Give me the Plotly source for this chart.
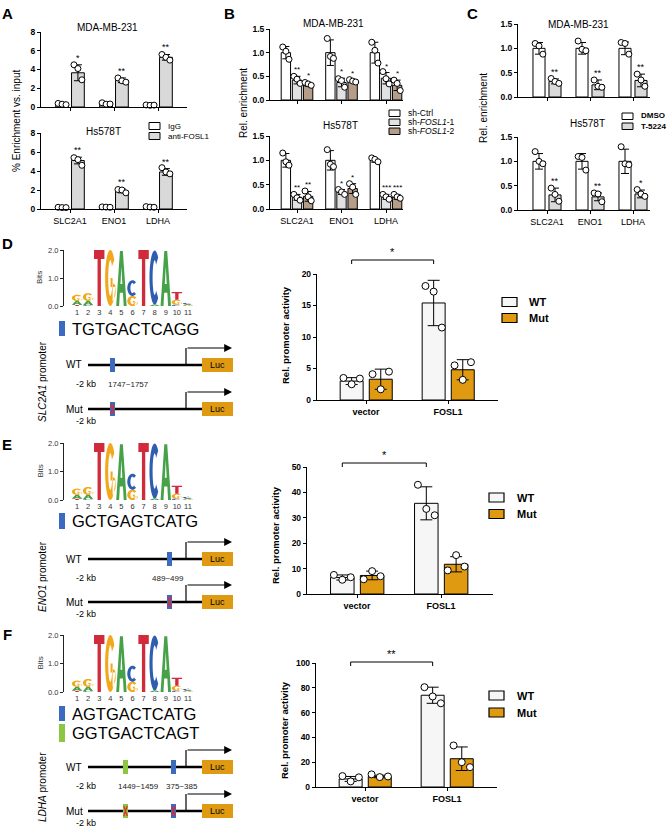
import numpy as np
import plotly.graph_objects as go

W, H = 669, 828
FONT = "Arial, 'Liberation Sans', Helvetica, sans-serif"

# ======================= DATA =======================
genes = ["SLC2A1", "ENO1", "LDHA"]

# ---- Panel A: % enrichment vs input ----
A_mda_igg_mean = [0.30, 0.35, 0.20]
A_mda_igg_sd = [0.06, 0.09, 0.04]
A_mda_igg_pts = [[0.38, 0.30, 0.25], [0.45, 0.30, 0.32], [0.22, 0.18, 0.20]]
A_mda_anti_mean = [3.65, 2.85, 5.30]
A_mda_anti_sd = [0.85, 0.25, 0.30]
A_mda_anti_pts = [[4.5, 4.1, 2.9], [3.1, 2.8, 2.65], [5.6, 5.3, 5.0]]
A_mda_stars = ["*", "**", "**"]

A_hs_igg_mean = [0.15, 0.20, 0.20]
A_hs_igg_sd = [0.03, 0.04, 0.05]
A_hs_igg_pts = [[0.18, 0.15, 0.15], [0.22, 0.20, 0.18], [0.25, 0.20, 0.18]]
A_hs_anti_mean = [5.10, 1.90, 3.90]
A_hs_anti_sd = [0.35, 0.20, 0.35]
A_hs_anti_pts = [[5.4, 5.2, 4.6], [2.05, 2.0, 1.7], [4.35, 3.9, 3.7]]
A_hs_stars = ["**", "**", "**"]

# ---- Panel B: knockdown ----
B_mda_ctrl_mean = [1.0, 1.0, 1.0]
B_mda_ctrl_sd = [0.13, 0.27, 0.22]
B_mda_ctrl_pts = [[1.12, 1.03, 0.86], [1.30, 0.92, 0.88], [1.22, 1.05, 0.78]]
B_mda_sh1_mean = [0.42, 0.37, 0.46]
B_mda_sh1_sd = [0.08, 0.09, 0.12]
B_mda_sh1_pts = [[0.50, 0.44, 0.35], [0.45, 0.41, 0.27], [0.60, 0.45, 0.34]]
B_mda_sh1_stars = ["**", "*", "*"]
B_mda_sh2_mean = [0.33, 0.40, 0.31]
B_mda_sh2_sd = [0.04, 0.03, 0.11]
B_mda_sh2_pts = [[0.37, 0.34, 0.31], [0.43, 0.40, 0.38], [0.42, 0.35, 0.20]]
B_mda_sh2_stars = ["*", "*", "*"]

B_hs_ctrl_mean = [1.0, 1.0, 1.0]
B_hs_ctrl_sd = [0.14, 0.20, 0.04]
B_hs_ctrl_pts = [[1.15, 0.97, 0.90], [1.22, 0.92, 0.87], [1.05, 1.02, 0.97]]
B_hs_sh1_mean = [0.24, 0.35, 0.25]
B_hs_sh1_sd = [0.06, 0.05, 0.05]
B_hs_sh1_pts = [[0.30, 0.23, 0.18], [0.40, 0.35, 0.30], [0.30, 0.25, 0.20]]
B_hs_sh1_stars = ["**", "*", "***"]
B_hs_sh2_mean = [0.26, 0.42, 0.25]
B_hs_sh2_sd = [0.10, 0.10, 0.05]
B_hs_sh2_pts = [[0.37, 0.25, 0.17], [0.52, 0.45, 0.30], [0.30, 0.25, 0.22]]
B_hs_sh2_stars = ["**", "*", "***"]

# ---- Panel C: inhibitor ----
C_mda_dmso_mean = [1.0, 1.0, 1.0]
C_mda_dmso_sd = [0.12, 0.12, 0.13]
C_mda_dmso_pts = [[1.10, 1.05, 0.88], [1.15, 0.98, 0.95], [1.12, 1.10, 0.88]]
C_mda_t_mean = [0.32, 0.25, 0.34]
C_mda_t_sd = [0.05, 0.10, 0.13]
C_mda_t_pts = [[0.38, 0.32, 0.28], [0.35, 0.22, 0.20], [0.47, 0.35, 0.22]]
C_mda_stars = ["**", "**", "**"]

C_hs_dmso_mean = [1.0, 1.0, 1.0]
C_hs_dmso_sd = [0.16, 0.16, 0.25]
C_hs_dmso_pts = [[1.20, 1.00, 0.95], [1.10, 1.08, 0.82], [1.30, 0.95, 0.93]]
C_hs_t_mean = [0.31, 0.27, 0.33]
C_hs_t_sd = [0.14, 0.08, 0.08]
C_hs_t_pts = [[0.45, 0.32, 0.18], [0.35, 0.33, 0.17], [0.42, 0.33, 0.28]]
C_hs_stars = ["**", "**", "*"]

# ---- Panels D-F: promoter activity ----
conditions = ["vector", "FOSL1"]
D_wt_mean = [3.0, 15.4]
D_wt_sd = [0.55, 3.6]
D_wt_pts = [[3.5, 2.5, 3.4], [18.1, 17.2, 11.5]]
D_mut_mean = [3.3, 4.8]
D_mut_sd = [1.6, 1.6]
D_mut_pts = [[4.1, 1.7, 4.5], [5.5, 3.2, 6.0]]

E_wt_mean = [6.5, 35.7]
E_wt_sd = [1.0, 6.5]
E_wt_pts = [[7.5, 5.6, 6.6], [43.0, 33.5, 31.0]]
E_mut_mean = [7.3, 11.7]
E_mut_sd = [1.7, 3.0]
E_mut_pts = [[5.8, 9.0, 7.0], [9.3, 15.3, 10.8]]

F_wt_mean = [6.5, 74.0]
F_wt_sd = [2.0, 6.5]
F_wt_pts = [[8.8, 4.5, 7.8], [80.5, 73.0, 67.5]]
F_mut_mean = [8.5, 22.8]
F_mut_sd = [1.0, 9.5]
F_mut_pts = [[10.2, 8.0, 8.5], [33.5, 20.0, 16.0]]

DEF_stars = ["*", "*", "**"]

# ---- sequence logo (bits, stacked bottom -> top) ----
logo_positions = list(range(1, 12))
logo_stacks = [
    [("T", 0.04), ("A", 0.14), ("G", 0.22)],
    [("C", 0.03), ("A", 0.15), ("G", 0.28)],
    [("T", 2.0)],
    [("G", 2.0)],
    [("A", 1.96)],
    [("G", 0.36), ("C", 0.56)],
    [("T", 2.0)],
    [("A", 0.05), ("C", 1.93)],
    [("A", 1.96)],
    [("C", 0.05), ("G", 0.17), ("T", 0.28)],
    [("G", 0.03), ("A", 0.03), ("C", 0.05)],
]
D_seqs = ["TGTGACTCAGG"]
E_seqs = ["GCTGAGTCATG"]
F_seqs = ["AGTGACTCATG", "GGTGACTCAGT"]

# ======================= STYLE =======================
WHITE = "#ffffff"
GREY = "#d9d9d9"
BROWN = "#b49e89"
ORANGE = "#e09a12"
WT_COL = "#f6f6f6"
BLUE = "#3b6bbf"
GREEN = "#8dc641"
LOGO_COL = {"T": "#d12a3a", "G": "#f2a81d", "A": "#45a248", "C": "#2f5db0"}

fig = go.Figure()
layout = dict(width=W, height=H, margin=dict(l=0, r=0, t=0, b=0, pad=0),
              template="none", autosize=False,
              paper_bgcolor="white", plot_bgcolor="rgba(0,0,0,0)",
              showlegend=False, barmode="overlay",
              font=dict(family=FONT, color="black"))
shapes, annots = [], []


def PX(x):
    return x / W


def PY(y):
    return 1 - y / H


def akey(p, n):
    return f"{p}axis" if n == 1 else f"{p}axis{n}"


def aref(p, n):
    return p if n == 1 else f"{p}{n}"


def text(x, y, s, size=10, bold=False, xanchor="center", angle=0, color="black"):
    annots.append(dict(x=PX(x), y=PY(y), xref="paper", yref="paper", text=s,
                       showarrow=False, xanchor=xanchor, yanchor="middle",
                       textangle=angle,
                       font=dict(size=size, color=color, family=FONT,
                                 weight="bold" if bold else "normal")))


def rect(x0, x1, y0, y1, fill, lc="black", lw=1):
    shapes.append(dict(type="rect", xref="paper", yref="paper",
                       x0=PX(x0), x1=PX(x1), y0=PY(y0), y1=PY(y1),
                       fillcolor=fill, line=dict(color=lc, width=lw)))


def pline(x0, y0, x1, y1, color="black", width=1):
    shapes.append(dict(type="line", xref="paper", yref="paper",
                       x0=PX(x0), x1=PX(x1), y0=PY(y0), y1=PY(y1),
                       line=dict(color=color, width=width)))


def bar_panel(n, g, series, yticks, yfmt, xlabels, show_x, xbold, ptsize,
              jit, capw, lw, tsize=8.5, xsize=9, star_size=9):
    xr = [(g["left"] - g["c0"]) / g["sp"], (g["right"] - g["c0"]) / g["sp"]]
    layout[akey("x", n)] = dict(
        domain=[g["left"] / W, g["right"] / W], range=xr, anchor=aref("y", n),
        showline=True, linecolor="black", linewidth=lw, ticks="outside",
        ticklen=3, tickwidth=1, tickcolor="black", automargin=False,
        tickvals=list(range(len(xlabels))), ticktext=xlabels,
        showticklabels=show_x,
        tickfont=dict(size=xsize, color="black", weight="bold" if xbold else "normal"),
        showgrid=False, zeroline=False, fixedrange=True)
    layout[akey("y", n)] = dict(
        domain=[1 - g["bot"] / H, 1 - g["top"] / H], range=[0, g["ymax"]],
        anchor=aref("x", n), showline=True, linecolor="black", linewidth=lw,
        ticks="outside", ticklen=3, tickwidth=1, tickcolor="black",
        automargin=False,
        tickvals=yticks, ticktext=[yfmt.format(v) for v in yticks],
        tickfont=dict(size=tsize, color="black", weight="bold"), showgrid=False,
        zeroline=False, fixedrange=True)
    for s in series:
        xs = [i + s["off"] for i in range(len(s["mean"]))]
        fig.add_trace(go.Bar(
            x=xs, y=s["mean"], width=s["width"],
            marker=dict(color=s["color"], line=dict(color="black", width=1)),
            error_y=dict(type="data", array=s["sd"], color="black",
                         thickness=1, width=capw),
            xaxis=aref("x", n), yaxis=aref("y", n), hoverinfo="skip"))
        px_, py_ = [], []
        for i, pts in enumerate(s["pts"]):
            for k, v in enumerate(pts):
                px_.append(i + s["off"] + (k - 1) * jit)
                py_.append(v)
        fig.add_trace(go.Scatter(
            x=px_, y=py_, mode="markers", cliponaxis=False,
            marker=dict(size=ptsize, color="white",
                        line=dict(color="black", width=1)),
            xaxis=aref("x", n), yaxis=aref("y", n), hoverinfo="skip"))
        for i, st in enumerate(s.get("stars") or []):
            annots.append(dict(x=xs[i], y=s["mean"][i] + s["sd"][i],
                               xref=aref("x", n), yref=aref("y", n), text=st,
                               showarrow=False, yanchor="bottom", yshift=0,
                               font=dict(size=star_size, color="black", family=FONT)))


# ---------------- Panel A ----------------
gA = dict(left=41, right=187, c0=70, sp=44)
sA = dict(off=0.18, width=0.29)
bar_panel(1, dict(gA, top=32, bot=107, ymax=8), [
    dict(mean=A_mda_igg_mean, sd=A_mda_igg_sd, pts=A_mda_igg_pts, off=-sA["off"], width=sA["width"], color=WHITE),
    dict(mean=A_mda_anti_mean, sd=A_mda_anti_sd, pts=A_mda_anti_pts, off=sA["off"], width=sA["width"], color=GREY, stars=A_mda_stars),
], [0, 2, 4, 6, 8], "{:g}", genes, False, False, 6, 0.09, 4, 1)
bar_panel(2, dict(gA, top=133, bot=209, ymax=8), [
    dict(mean=A_hs_igg_mean, sd=A_hs_igg_sd, pts=A_hs_igg_pts, off=-sA["off"], width=sA["width"], color=WHITE),
    dict(mean=A_hs_anti_mean, sd=A_hs_anti_sd, pts=A_hs_anti_pts, off=sA["off"], width=sA["width"], color=GREY, stars=A_hs_stars),
], [0, 2, 4, 6, 8], "{:g}", genes, True, False, 6, 0.09, 4, 1)
text(107, 27, "MDA-MB-231", 10)
text(103, 131, "Hs578T", 10)
text(17, 121, "% Enrichment vs. input", 10, angle=-90)
rect(149, 160, 122.5, 129.5, WHITE)
rect(149, 160, 132.5, 139.5, GREY)
text(166, 126, "IgG", 8, xanchor="left")
text(166, 136, "anti-FOSL1", 8, xanchor="left")

# ---------------- Panel B ----------------
gB = dict(left=270, right=403, c0=297, sp=44.5)
bar_panel(3, dict(gB, top=29, bot=100, ymax=1.5), [
    dict(mean=B_mda_ctrl_mean, sd=B_mda_ctrl_sd, pts=B_mda_ctrl_pts, off=-0.25, width=0.21, color=WHITE),
    dict(mean=B_mda_sh1_mean, sd=B_mda_sh1_sd, pts=B_mda_sh1_pts, off=0.0, width=0.21, color="#e2e2e2", stars=B_mda_sh1_stars),
    dict(mean=B_mda_sh2_mean, sd=B_mda_sh2_sd, pts=B_mda_sh2_pts, off=0.25, width=0.21, color=BROWN, stars=B_mda_sh2_stars),
], [0, 0.5, 1.0, 1.5], "{:.1f}", genes, False, False, 6, 0.07, 3.5, 1, star_size=8)
bar_panel(4, dict(gB, top=136, bot=209, ymax=1.5), [
    dict(mean=B_hs_ctrl_mean, sd=B_hs_ctrl_sd, pts=B_hs_ctrl_pts, off=-0.25, width=0.21, color=WHITE),
    dict(mean=B_hs_sh1_mean, sd=B_hs_sh1_sd, pts=B_hs_sh1_pts, off=0.0, width=0.21, color="#e2e2e2", stars=B_hs_sh1_stars),
    dict(mean=B_hs_sh2_mean, sd=B_hs_sh2_sd, pts=B_hs_sh2_pts, off=0.25, width=0.21, color=BROWN, stars=B_hs_sh2_stars),
], [0, 0.5, 1.0, 1.5], "{:.1f}", genes, True, False, 6, 0.07, 3.5, 1, star_size=8)
text(333, 23, "MDA-MB-231", 10)
text(340, 125, "Hs578T", 10)
text(243, 103, "Rel. enrichment", 10, angle=-90)
for yy, col, lab in [(113, WHITE, "sh-Ctrl"), (122, "#e2e2e2", "sh-<i>FOSL1</i>-1"), (131, BROWN, "sh-<i>FOSL1</i>-2")]:
    rect(389, 400, yy - 3, yy + 3.5, col)
    text(406, yy, lab, 8.5, xanchor="left")

# ---------------- Panel C ----------------
gC = dict(left=518, right=650, c0=547, sp=43)
bar_panel(5, dict(gC, top=24, bot=97, ymax=1.5), [
    dict(mean=C_mda_dmso_mean, sd=C_mda_dmso_sd, pts=C_mda_dmso_pts, off=-0.186, width=0.28, color=WHITE),
    dict(mean=C_mda_t_mean, sd=C_mda_t_sd, pts=C_mda_t_pts, off=0.186, width=0.28, color=GREY, stars=C_mda_stars),
], [0, 0.5, 1.0, 1.5], "{:.1f}", genes, False, False, 6, 0.09, 4, 1)
bar_panel(6, dict(gC, top=137, bot=210, ymax=1.5), [
    dict(mean=C_hs_dmso_mean, sd=C_hs_dmso_sd, pts=C_hs_dmso_pts, off=-0.186, width=0.28, color=WHITE),
    dict(mean=C_hs_t_mean, sd=C_hs_t_sd, pts=C_hs_t_pts, off=0.186, width=0.28, color=GREY, stars=C_hs_stars),
], [0, 0.5, 1.0, 1.5], "{:.1f}", genes, True, False, 6, 0.09, 4, 1)
text(578, 24, "MDA-MB-231", 10)
text(587, 123, "Hs578T", 10)
text(483, 108, "Rel. enrichment", 10, angle=-90)
rect(622, 633, 113, 119.5, WHITE)
rect(622, 633, 123, 129.5, GREY)
text(639, 116, "DMSO", 8, bold=True, xanchor="left")
text(639, 126, "T-5224", 8, bold=True, xanchor="left")


# ---------------- Panels D-F bars ----------------
def promoter_bars(n, g, wt, mut, yticks, star, bracket_y, ytitle_cy, leg_y, leg_box_x, leg_tx):
    bar_panel(n, g, [
        dict(mean=wt[0], sd=wt[1], pts=wt[2], off=-0.175, width=0.28, color=WT_COL),
        dict(mean=mut[0], sd=mut[1], pts=mut[2], off=0.18, width=0.28, color=ORANGE),
    ], yticks, "{:g}", conditions, True, True, 7, 0.1, 6, 1.2, tsize=8.5, xsize=9)
    xa = aref("x", n)
    for x0, y0, x1, y1 in [(-0.175, bracket_y, 1 - 0.175, bracket_y),
                           (-0.175, bracket_y, -0.175, bracket_y + 4),
                           (1 - 0.175, bracket_y, 1 - 0.175, bracket_y + 4)]:
        shapes.append(dict(type="line", xref=xa, yref="paper", x0=x0, x1=x1,
                           y0=PY(y0), y1=PY(y1), line=dict(color="black", width=1)))
    annots.append(dict(x=0.5 - 0.175, y=PY(bracket_y), xref=xa, yref="paper",
                       text=star, showarrow=False, yanchor="bottom", yshift=0,
                       font=dict(size=11, color="black", family=FONT)))
    text(g["left"] - 32, ytitle_cy, "Rel. promoter activity", 9.5, bold=True, angle=-90)
    rect(leg_box_x, leg_box_x + 15, leg_y[0] - 4.5, leg_y[0] + 4.5, WT_COL, lw=1.2)
    rect(leg_box_x, leg_box_x + 15, leg_y[1] - 4.5, leg_y[1] + 4.5, ORANGE, lw=1.2)
    text(leg_tx, leg_y[0], "WT", 11, bold=True, xanchor="left")
    text(leg_tx, leg_y[1], "Mut", 11, bold=True, xanchor="left")


promoter_bars(7, dict(left=317, right=498, c0=366, sp=82, top=274, bot=400, ymax=20),
              (D_wt_mean, D_wt_sd, D_wt_pts), (D_mut_mean, D_mut_sd, D_mut_pts),
              [0, 5, 10, 15, 20], DEF_stars[0], 260, 335, (302, 318), 502, 527)
promoter_bars(8, dict(left=307, right=493, c0=357, sp=84, top=467, bot=594, ymax=50),
              (E_wt_mean, E_wt_sd, E_wt_pts), (E_mut_mean, E_mut_sd, E_mut_pts),
              [0, 10, 20, 30, 40, 50], DEF_stars[1], 463, 535, (497.5, 514), 489, 515)
promoter_bars(9, dict(left=316, right=497, c0=365, sp=82, top=663, bot=787, ymax=100),
              (F_wt_mean, F_wt_sd, F_wt_pts), (F_mut_mean, F_mut_sd, F_mut_pts),
              [0, 20, 40, 60, 80, 100], DEF_stars[2], 662, 730, (695.5, 712.5), 489, 515)


# ---------------- sequence logos ----------------
def unit_glyph(letter):
    if letter == "T":
        return [[(0, 1), (1, 1), (1, 0.84), (0.66, 0.84), (0.66, 0), (0.34, 0), (0.34, 0.84), (0, 0.84)]]
    if letter == "A":
        return [[(0, 0), (0.36, 1), (0.64, 1), (1, 0), (0.72, 0), (0.65, 0.24), (0.35, 0.24), (0.28, 0)],
                [(0.41, 0.4), (0.59, 0.4), (0.5, 0.72)]]
    th = np.radians(np.linspace(48, 312, 40)) if letter == "C" else np.radians(np.linspace(40, 345, 40))
    outer = [(0.5 + 0.5 * np.cos(t), 0.5 + 0.5 * np.sin(t)) for t in th]
    inner = [(0.5 + 0.2 * np.cos(t), 0.5 + 0.32 * np.sin(t)) for t in th[::-1]]
    parts = [outer + inner]
    if letter == "G":
        parts.append([(0.52, 0.34), (1.0, 0.34), (1.0, 0.5), (0.52, 0.5)])
        parts.append([(0.72, 0.08), (1.0, 0.2), (1.0, 0.5), (0.72, 0.5)])
    return parts


def logo_panel(n, top, bot):
    layout[akey("x", n)] = dict(domain=[71.5 / W, 193.5 / W], range=[0.5, 11.5],
                                anchor=aref("y", n), showline=False, showgrid=False,
                                zeroline=False, tickvals=logo_positions, automargin=False,
                                ticktext=[str(p) for p in logo_positions], ticks="",
                                tickfont=dict(size=7.5, color="#333"), fixedrange=True)
    layout[akey("y", n)] = dict(domain=[1 - bot / H, 1 - top / H], range=[0, 2],
                                anchor="free", position=63 / W, showline=True,
                                linecolor="#222", linewidth=1, ticks="outside",
                                ticklen=3, tickcolor="#222", tickvals=[0, 1, 2],
                                ticktext=["0.0", "1.0", "2.0"], automargin=False,
                                tickfont=dict(size=7.5, color="#333"),
                                showgrid=False, zeroline=False, fixedrange=True)
    for pos, stack in zip(logo_positions, logo_stacks):
        base = 0.0
        for letter, h in stack:
            x0, x1 = pos - 0.47, pos + 0.47
            path = ""
            for poly in unit_glyph(letter):
                pts = [(x0 + ux * (x1 - x0), base + uy * h) for ux, uy in poly]
                path += "M " + " L ".join(f"{a:.4f},{b:.4f}" for a, b in pts) + " Z "
            shapes.append(dict(type="path", xref=aref("x", n), yref=aref("y", n),
                               path=path, fillcolor=LOGO_COL[letter],
                               line=dict(width=0)))
            base += h
    text(40, (top + bot) / 2, "Bits", 8, angle=-90, color="#333")


logo_panel(10, 250, 306)
logo_panel(11, 443, 500)
logo_panel(12, 635, 692)


def seq_rows(seqs, rows, cols):
    for s, (yc, hh), c in zip(seqs, rows, cols):
        rect(59, 65, yc - hh, yc + hh, c, lc=c, lw=0)
        text(70, yc, s, 16.5, xanchor="left")


seq_rows(D_seqs, [(328.5, 7.5)], [BLUE])
seq_rows(E_seqs, [(521, 8)], [BLUE])
seq_rows(F_seqs, [(713.5, 7.5), (733, 9)], [BLUE, GREEN])


# ---------------- promoter schematics ----------------
def promoter(gene, wt_y, mut_y, label_cy, sites):
    text(42, label_cy, f"<i>{gene}</i> promoter", 10, angle=-90)
    for ly, name, kb_dy, mut in [(wt_y, "WT", 19, False), (mut_y, "Mut", 12, True)]:
        pline(88, ly, 203, ly, width=2.5)
        rect(202, 233, ly - 7, ly + 7, ORANGE, lc=ORANGE, lw=0)
        text(217.5, ly, "Luc", 9)
        pline(186, ly, 186, ly - 17, width=1.2)
        annots.append(dict(x=PX(232), y=PY(ly - 17), xref="paper", yref="paper",
                           text="", showarrow=True, ax=-46, ay=0, arrowhead=2,
                           arrowsize=1.3, arrowwidth=1.2, arrowcolor="black",
                           standoff=0))
        text(64, ly, name, 10, xanchor="left")
        text(86, ly + kb_dy, "-2 kb", 9)
        for sx, col, lab, lcx in sites:
            rect(sx - 2.5, sx + 2.5, ly - 7, ly + 7, col, lc=col, lw=0)
            if mut:
                pline(sx - 1.8, ly - 5, sx + 1.8, ly + 5, color="#e3262b", width=1.2)
                pline(sx + 1.8, ly - 5, sx - 1.8, ly + 5, color="#e3262b", width=1.2)
            else:
                text(lcx, ly + 19, lab, 8, color="#222")


promoter("SLC2A1", 365, 409, 382, [(112.5, BLUE, "1747~1757", 128)])
promoter("ENO1", 559, 602, 577, [(169.5, BLUE, "489~499", 168)])
promoter("LDHA", 767, 811, 787, [(125.5, GREEN, "1449~1459", 138), (173.5, BLUE, "375~385", 182)])

# ---------------- panel letters ----------------
for lt, x, y in [("A", 7, 14), ("B", 229, 14), ("C", 472, 14), ("D", 7, 244), ("E", 7, 444), ("F", 7, 634)]:
    text(x, y, lt, 15, bold=True)

layout["shapes"] = shapes
layout["annotations"] = annots
fig.update_layout(**layout)
fig.write_html("out.html", config={"displayModeBar": False, "staticPlot": True},
               post_script="document.body.style.margin='0px';document.body.style.overflow='hidden';")
